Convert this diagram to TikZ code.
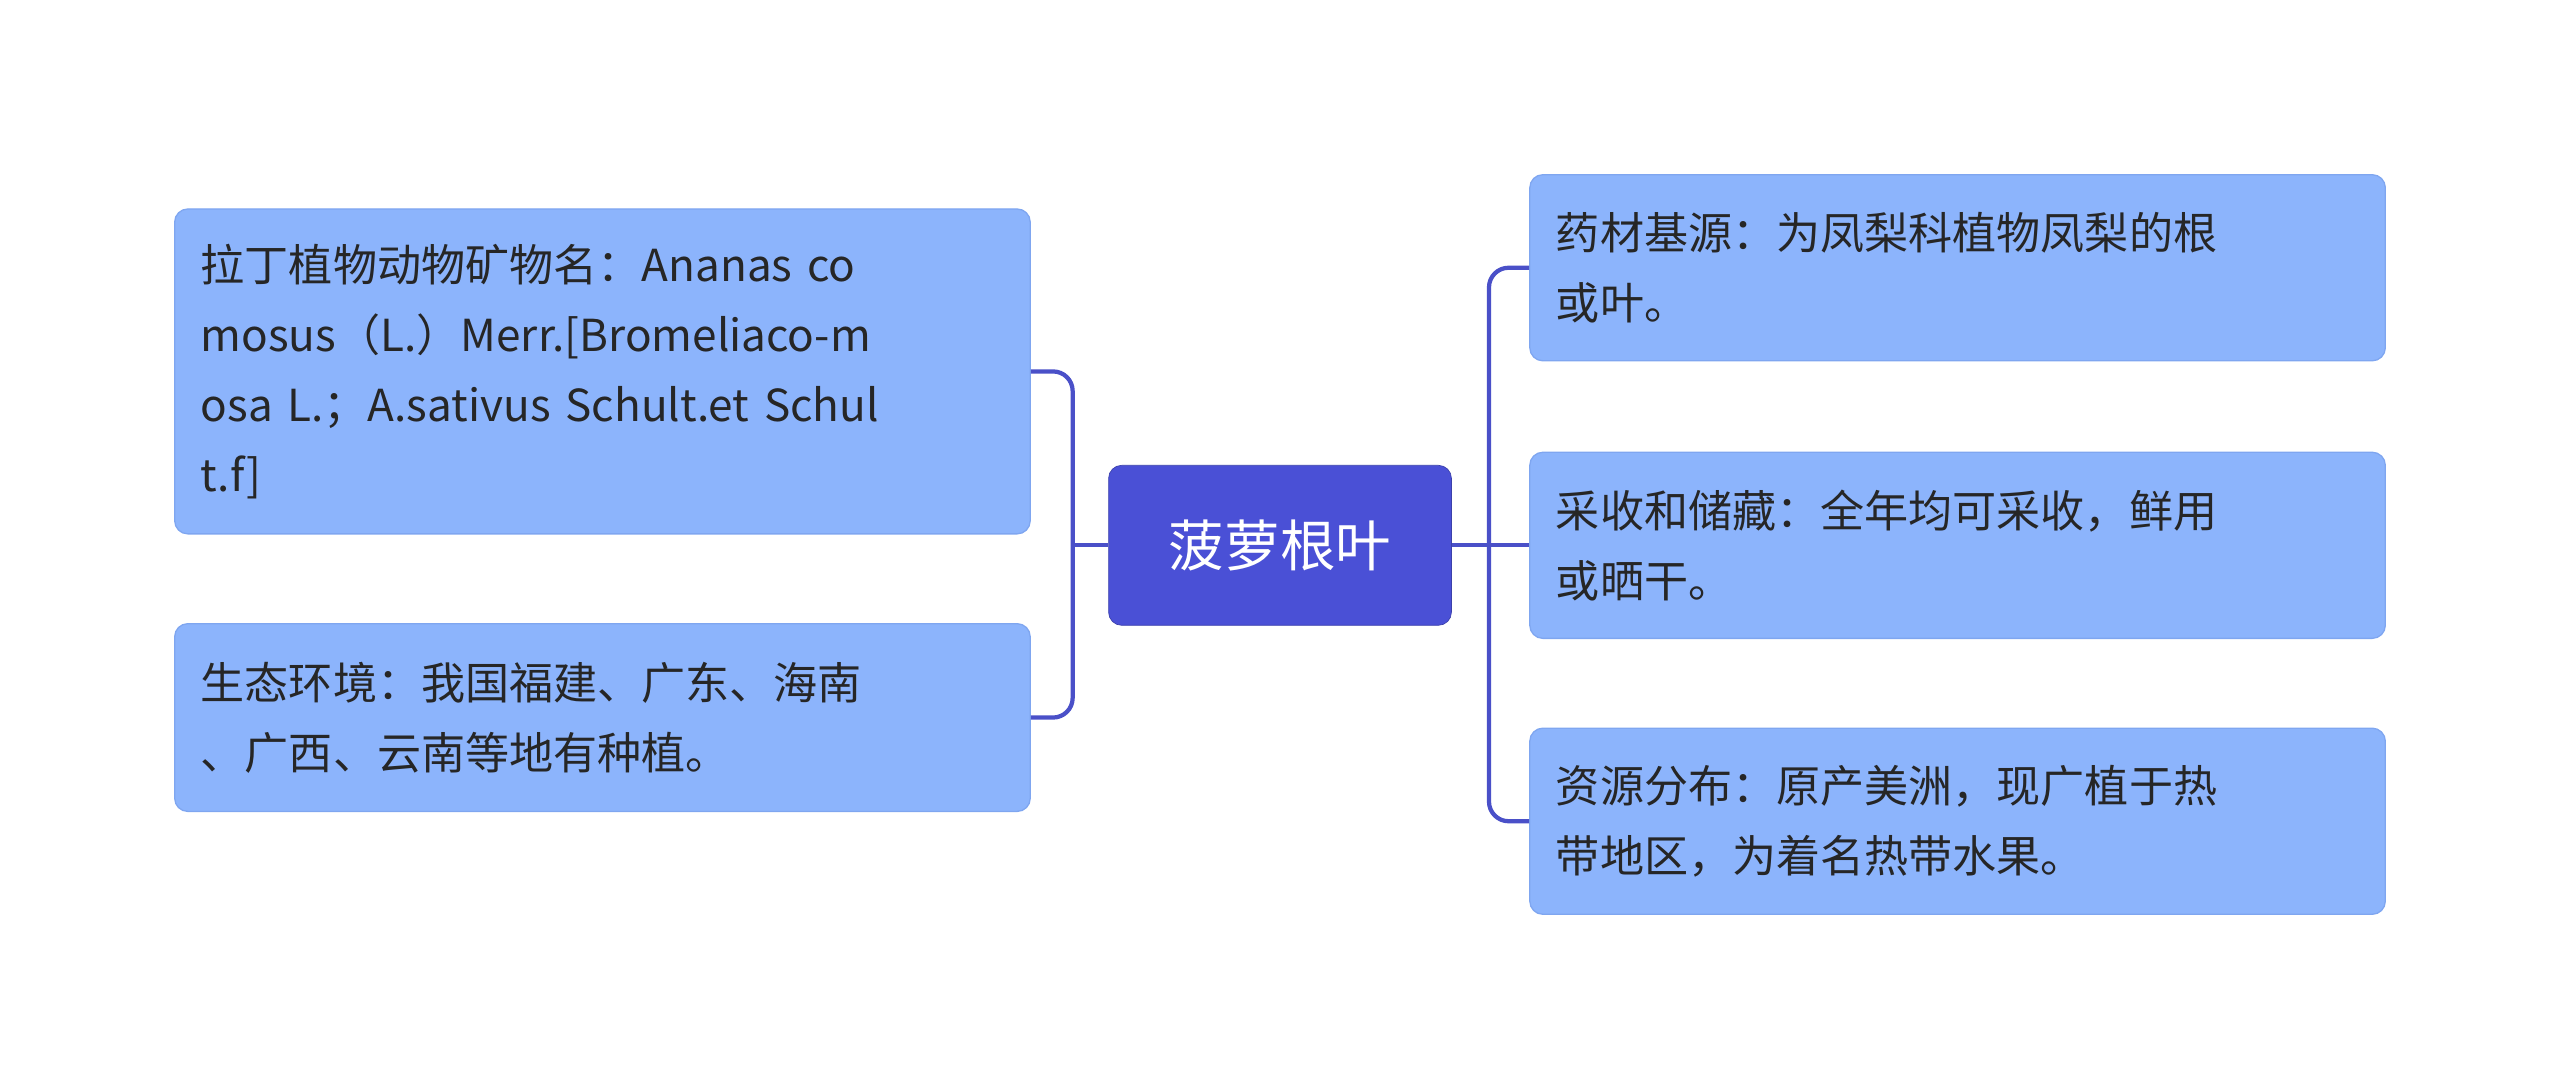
\documentclass[tikz,border=0pt]{standalone}
\usepackage{fontspec}
\setmainfont{Noto Sans CJK SC}
\usetikzlibrary{positioning}
\definecolor{leafblue}{HTML}{8CB4FC}
\definecolor{leafline}{HTML}{7FA6F0}
\definecolor{rootblue}{HTML}{4A50D6}
\definecolor{linkblue}{HTML}{4A50C8}
\tikzset{
  leaf/.style={draw=leafline, fill=leafblue, rounded corners=8pt, line width=0.8pt,
    minimum width=524pt, text width=492pt, align=left, inner sep=0pt,
    font=\fontsize{27}{43}\selectfont, text=black!85},
  root/.style={draw=rootblue!80!black, fill=rootblue, rounded corners=8pt,
    minimum width=210pt, minimum height=98pt, text=white,
    font=\fontsize{34}{40}\selectfont},
  link/.style={draw=linkblue, line width=2.6pt, rounded corners=12pt}
}
\begin{document}
\begin{tikzpicture}[x=1pt,y=-1pt]
  \useasboundingbox (0,0) rectangle (1568,668);
  \node[root] (hub) at (784,334) {菠萝根叶};
  % left side
  \node[leaf, minimum height=199pt] (latin) at (369,227.5)
    {拉丁植物动物矿物名：Ananas co\\mosus（L.）Merr.[Bromeliaco-m\\osa L.；A.sativus Schult.et Schul\\t.f]};
  \node[leaf, minimum height=115pt] (habitat) at (369,439.5)
    {生态环境：我国福建、广东、海南\\、广西、云南等地有种植。};
  % right side
  \node[leaf, minimum height=114pt] (origin) at (1199,164)
    {药材基源：为凤梨科植物凤梨的根\\或叶。};
  \node[leaf, minimum height=114pt] (harvest) at (1199,334)
    {采收和储藏：全年均可采收，鲜用\\或晒干。};
  \node[leaf, minimum height=114pt] (range) at (1199,503)
    {资源分布：原产美洲，现广植于热\\带地区，为着名热带水果。};
  \coordinate (lj) at (657,334);
  \coordinate (rj) at (912,334);
  \draw[link] (hub.west) -- (lj);
  \draw[link] (latin.east) -| (lj) |- (habitat.east);
  \draw[link] (hub.east) -- (rj) -- (harvest.west);
  \draw[link] (origin.west) -| (rj) |- (range.west);
\end{tikzpicture}
\end{document}
